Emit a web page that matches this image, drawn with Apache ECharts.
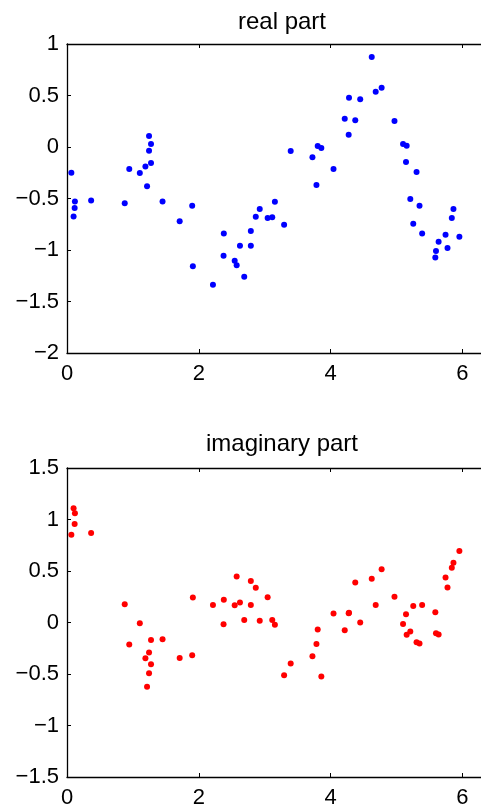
<!DOCTYPE html>
<html lang="en">
<head>
    <meta charset="UTF-8">
    <title>real / imaginary part</title>
    <style>
        html,body{margin:0;padding:0;background:#fff;}
        #mychart{width:481px;height:811px;}
    </style>
</head>
<body>
    <div id="mychart"></div>
    <script src="https://cdn.jsdelivr.net/npm/echarts@6/dist/echarts.min.js"></script>
    <script>
        // sample positions (shared by both plots)
        var xs=[0.066,0.100,0.116,0.120,0.366,0.876,0.945,1.105,1.190,1.215,1.245,1.245,1.275,1.275,1.450,1.710,
                1.900,1.910,2.215,2.376,2.380,2.545,2.575,2.625,2.690,2.790,2.790,2.865,2.925,3.045,3.115,3.155,
                3.295,3.395,3.725,3.786,3.805,3.860,4.045,4.215,4.275,4.280,4.375,4.450,4.625,4.685,4.775,4.970,
                5.100,5.145,5.155,5.210,5.255,5.305,5.350,5.390,5.590,5.600,5.640,5.745,5.775,5.840,5.865,5.955]
        var realPart=[-0.25,-0.674,-0.593,-0.53,-0.52,-0.545,-0.214,-0.253,-0.19,-0.382,0.107,-0.036,0.029,-0.155,-0.53,-0.72,
                -0.57,-1.157,-1.338,-1.056,-0.839,-1.105,-1.147,-0.959,-1.26,-0.816,-0.959,-0.677,-0.603,-0.69,-0.683,-0.531,
                -0.755,-0.039,-0.1,-0.369,0.01,-0.01,-0.214,0.275,0.12,0.479,0.259,0.463,0.875,0.537,0.576,0.253,
                0.029,-0.146,0.013,-0.505,-0.745,-0.243,-0.57,-0.839,-1.072,-1.01,-0.92,-0.852,-0.981,-0.69,-0.603,-0.871]
        var imagPart=[0.852,1.109,0.956,1.06,0.869,0.178,-0.214,-0.007,-0.347,-0.623,-0.292,-0.493,-0.169,-0.406,-0.162,-0.344,
                -0.318,0.243,0.171,-0.017,0.22,0.168,0.447,0.194,0.025,0.402,0.171,0.337,0.016,0.246,0.025,-0.023,
                -0.513,-0.399,-0.328,-0.208,-0.068,-0.525,0.087,-0.075,0.09,0.095,0.389,0.0,0.424,0.171,0.518,0.249,
                -0.014,0.081,-0.12,-0.088,0.159,-0.192,-0.204,0.171,0.1,-0.104,-0.117,0.438,0.34,0.531,0.58,0.694]
        var xTicks=[0,2,4,6]
        var titles=['real part','imaginary part']

        var font='Liberation Sans, Arial, sans-serif'
        var xmax=2*Math.PI

        function pairs(ys){
            let out=[]
            for(let i=0;i<xs.length;i++){
                out.push([xs[i],ys[i]])
            }
            return out
        }
        function fmt(v){//长减号
            return String(v).replace('-','\u2212')
        }
        function xAx(grid,pos){
            return {
                type:'value',gridIndex:grid,position:pos,
                min:0,max:xmax,interval:2,
                axisLine:{show:true,onZero:false,lineStyle:{color:'#000',width:1.3}},
                axisTick:{show:true,inside:true,length:4,lineStyle:{color:'#000'}},
                axisLabel:{show:pos=='bottom',showMaxLabel:false,margin:10,color:'#000',fontSize:22,fontFamily:font,
                    formatter:function(v){return xTicks.indexOf(v)>=0?fmt(v):''}},
                splitLine:{show:false}
            }
        }
        function yAx(grid,mn,mx){
            return {
                type:'value',gridIndex:grid,min:mn,max:mx,interval:0.5,
                axisLine:{show:true,onZero:false,lineStyle:{color:'#000',width:1.3}},
                axisTick:{show:true,inside:true,length:4,lineStyle:{color:'#000'}},
                axisLabel:{margin:8,color:'#000',fontSize:22,fontFamily:font,formatter:fmt},
                splitLine:{show:false}
            }
        }

        var myChart=echarts.init(document.getElementById('mychart'))
        var option={
            animation:false,
            backgroundColor:'#fff',
            title:[
                {text:titles[0],left:277,top:5,textAlign:'center',
                    textStyle:{fontSize:24,fontWeight:'normal',color:'#000',fontFamily:font}},
                {text:titles[1],left:277,top:427,textAlign:'center',
                    textStyle:{fontSize:24,fontWeight:'normal',color:'#000',fontFamily:font}}
            ],
            grid:[
                {left:67,top:44,width:418.5,height:309},
                {left:67,top:468,width:418.5,height:309}
            ],
            xAxis:[xAx(0,'bottom'),xAx(0,'top'),xAx(1,'bottom'),xAx(1,'top')],
            yAxis:[yAx(0,-2,1),yAx(1,-1.5,1.5)],
            series:[
                {type:'scatter',xAxisIndex:0,yAxisIndex:0,symbolSize:6,
                    itemStyle:{color:'#0000ff',opacity:1},data:pairs(realPart)},
                {type:'scatter',xAxisIndex:2,yAxisIndex:1,symbolSize:6,
                    itemStyle:{color:'#ff0000',opacity:1},data:pairs(imagPart)}
            ]
        }
        myChart.setOption(option)
    </script>
</body>
</html>
